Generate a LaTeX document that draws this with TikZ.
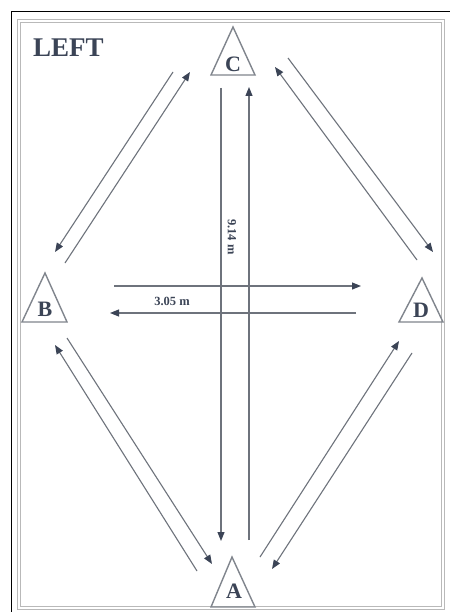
\documentclass[tikz,border=0pt]{standalone}
\usepackage{fontspec}
\setmainfont{Liberation Serif}
\usetikzlibrary{arrows.meta}
\definecolor{ink}{HTML}{3B4456}
\definecolor{ln}{HTML}{6E737C}
\definecolor{tri}{HTML}{80858D}
\begin{document}
\begin{tikzpicture}[x=1pt,y=-1pt,
  conn/.style={draw=ln, line width=1.1pt, -{Triangle[length=9pt,width=7pt,color=ink]}},
  letter/.style={font=\bfseries\fontsize{22}{22}\selectfont, text=ink, inner sep=0pt},
  cone/.style={draw=tri, line width=1.4pt, line join=miter},
  dim/.style={font=\bfseries\fontsize{12.5}{12.5}\selectfont, text=ink, inner sep=0pt},
]
\useasboundingbox (0,0) rectangle (450,612);
\fill[white] (0,0) rectangle (450,612);
% frame
\draw[black, line width=1pt] (11,612) -- (11,12) -- (450,12);
\draw[gray!55, line width=0.8pt, double=white, double distance=1.6pt] (19,21) rectangle (443,608);
% title
\node[font=\bfseries\fontsize{27}{27}\selectfont, text=ink, anchor=west, inner sep=0pt] (title) at (33,48) {LEFT};
% cones
\draw[cone] (211,75) -- (233,27) -- (255,75) -- cycle;
\draw[cone] (22,322) -- (45,273) -- (67,322) -- cycle;
\draw[cone] (399,322) -- (422,278) -- (443,322) -- cycle;
\draw[cone] (211,607) -- (232,557) -- (255,607) -- cycle;
\node[letter] (C) at (233,64.5) {C};
\node[letter] (B) at (45,309) {B};
\node[letter] (D) at (421,310) {D};
\node[letter] (A) at (234,591) {A};
% arrow endpoints
\coordinate (cb1s) at (173,72);  \coordinate (cb1e) at (55,252);
\coordinate (cb2s) at (65,263);  \coordinate (cb2e) at (190,72);
\coordinate (cd1s) at (417,260); \coordinate (cd1e) at (275,67);
\coordinate (cd2s) at (288,58);  \coordinate (cd2e) at (433,252);
\coordinate (ba1s) at (197,571); \coordinate (ba1e) at (55,345);
\coordinate (ba2s) at (67,338);  \coordinate (ba2e) at (212,564);
\coordinate (da1s) at (260,557); \coordinate (da1e) at (399,341);
\coordinate (da2s) at (412,353); \coordinate (da2e) at (272,569);
\coordinate (v1s) at (221,88);   \coordinate (v1e) at (221,541);
\coordinate (v2s) at (249,540);  \coordinate (v2e) at (249,87);
\coordinate (h1s) at (114,286);  \coordinate (h1e) at (361,286);
\coordinate (h2s) at (356,313);  \coordinate (h2e) at (110,313);
% arrows
\draw[conn] (cb1s) -- (cb1e);
\draw[conn] (cb2s) -- (cb2e);
\draw[conn] (cd1s) -- (cd1e);
\draw[conn] (cd2s) -- (cd2e);
\draw[conn] (ba1s) -- (ba1e);
\draw[conn] (ba2s) -- (ba2e);
\draw[conn] (da1s) -- (da1e);
\draw[conn] (da2s) -- (da2e);
\draw[conn] (v1s) -- (v1e);
\draw[conn] (v2s) -- (v2e);
\draw[conn] (h1s) -- (h1e);
\draw[conn] (h2s) -- (h2e);
% dimension labels
\node[dim] (w) at (172,301) {3.05 m};
\node[dim, rotate=-90] (l) at (232,237) {9.14 m};
\end{tikzpicture}
\end{document}
